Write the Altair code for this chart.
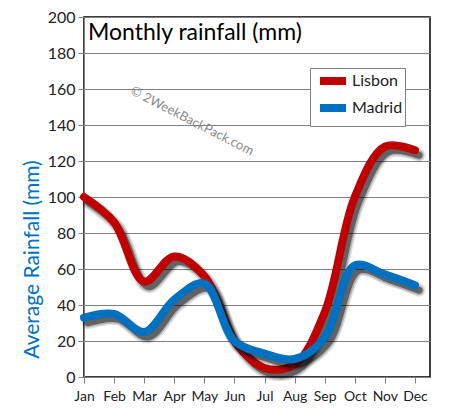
import altair as alt
import pandas as pd

months = ["Jan", "Feb", "Mar", "Apr", "May", "Jun", "Jul", "Aug", "Sep", "Oct", "Nov", "Dec"]
lisbon = [100, 86, 53, 67, 56, 20, 5, 7, 36, 100, 128, 126]
madrid = [33, 35, 25, 43, 52, 20, 13, 10, 22, 62, 57, 51]
cities = ["Lisbon", "Madrid"]
colors = ["#C00000", "#0070C0"]

rows = []
for c, vals in zip(cities, [lisbon, madrid]):
    for i, v in enumerate(vals):
        rows.append({"m": i, "month": months[i], "value": v, "city": c})
df = pd.DataFrame(rows)

FONT = "Lato"
label_expr = "[" + ",".join(f"'{m}'" for m in months) + "][datum.value]"

xenc = alt.X("m:Q",
             scale=alt.Scale(domain=[0, 11.5], nice=False, zero=False),
             axis=alt.Axis(values=list(range(12)), labelExpr=label_expr, title=None,
                           grid=False, domainColor="#808080", tickColor="#808080",
                           tickSize=6, labelFontSize=14, labelPadding=6,
                           labelOverlap=False, labelFlush=False,
                           labelColor="#222222", labelFont=FONT))
yenc = alt.Y("value:Q",
             scale=alt.Scale(domain=[0, 200], nice=False),
             axis=alt.Axis(values=list(range(0, 201, 20)), title="Average Rainfall (mm)",
                           grid=True, gridColor="#808080", gridWidth=1,
                           domainColor="#808080", tickColor="#808080", tickSize=6,
                           labelFontSize=16, labelPadding=3, labelColor="#222222",
                           labelFont=FONT, labelFlush=False,
                           titleFont=FONT, titleFontSize=21, titleFontWeight="normal",
                           titleColor="#0070C0", titleX=-52, titleY=242,
                           titleAngle=270, titleAlign="center", titleBaseline="middle"))

base = alt.Chart(df)
layers = []
for ci, c in enumerate(cities):
    sub = base.transform_filter(alt.datum.city == c)
    for w, op in [(13, 0.12), (10, 0.2), (7, 0.45)]:
        layers.append(sub.mark_line(interpolate="catmull-rom", color="#000000",
                                    strokeWidth=w, opacity=op, strokeCap="round",
                                    xOffset=4, yOffset=5)
                      .encode(x=xenc, y=yenc, detail="city:N"))
    layers.append(sub.mark_line(interpolate="catmull-rom", strokeWidth=8, strokeCap="round")
                  .encode(x=xenc, y=yenc,
                          color=alt.Color("city:N",
                                          scale=alt.Scale(domain=cities, range=colors),
                                          legend=alt.Legend(title=None, orient="none",
                                                            legendX=226, legendY=51,
                                                            symbolType="M-2,0H2",
                                                            symbolStrokeWidth=8,
                                                            symbolSize=170,
                                                            symbolOffset=10,
                                                            labelFontSize=16,
                                                            labelFont=FONT,
                                                            labelColor="#222222",
                                                            labelExpr="datum.label + '      '",
                                                            strokeColor="#808080",
                                                            fillColor="white",
                                                            padding=2,
                                                            rowPadding=-6,
                                                            labelOffset=8))))

title = alt.Chart(pd.DataFrame({"t": ["Monthly rainfall (mm)"]})).mark_text(
    align="left", baseline="middle", fontSize=23, font=FONT, color="#000000"
).encode(text="t:N", x=alt.value(4), y=alt.value(16))

watermark = alt.Chart(pd.DataFrame({"t": ["© 2WeekBackPack.com"]})).mark_text(
    align="center", baseline="middle", fontSize=13, font=FONT, color="#8a8a8a", angle=27
).encode(text="t:N", x=alt.value(108), y=alt.value(104))

chart = alt.layer(watermark, *layers, title).properties(
    width=346, height=360,
    autosize=alt.AutoSizeParams(type="none"),
    padding={"left": 76, "top": 9, "right": 13, "bottom": 33},
).configure_view(stroke="#000000", strokeWidth=1.5)

chart.save("out.html", embed_options={"renderer": "svg", "actions": False})
